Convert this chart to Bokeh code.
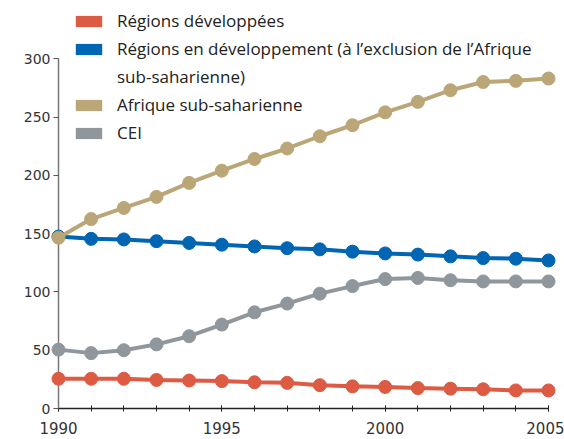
from bokeh.plotting import figure
from bokeh.models import Range1d, FixedTicker, Legend, LegendItem, ColumnDataSource, LinearAxis
from bokeh.embed import file_html
from bokeh.resources import INLINE

years = list(range(1990, 2006))
developed = [25.5, 25.5, 25.5, 24.5, 24, 23.5, 22.5, 22, 20, 19, 18.5, 17.5, 17, 16.5, 15.5, 15.5]
developing = [147.5, 145.5, 145, 143.5, 142, 140.5, 139, 137.5, 136.5, 134.5, 133, 132, 130.5, 129, 128.5, 127]
ssa = [146.5, 162.5, 172, 181.5, 193.5, 204, 214, 223, 233.5, 243, 254, 263, 273, 280, 281, 283]
cis = [50.5, 47.5, 50, 55, 62, 72, 82.5, 90, 98.5, 105, 111, 112, 110, 109, 109, 109]

# legend labels (the second one wraps onto a second line)
legend_lines = [["Régions développées"],
                ["Régions en développement (à l’exclusion de l’Afrique", "sub-saharienne)"],
                ["Afrique sub-saharienne"],
                ["CEI"]]
colors = ["#DD5A43", "#0066B3", "#BAA676", "#8F979D"]
x_ticks = [1990, 1995, 2000, 2005]
y_ticks = [0, 50, 100, 150, 200, 250, 300]

LEGEND_FONT = "Open Sans"
TICK_FONT = "DejaVu Sans"

p = figure(width=564, height=439, output_backend="svg", toolbar_location=None,
           x_range=Range1d(1990, 2005), y_range=Range1d(0, 346.5),
           min_border_left=58, min_border_right=16, min_border_top=4, min_border_bottom=31,
           x_axis_location=None, y_axis_location=None)
p.outline_line_color = None
p.grid.visible = False
p.background_fill_color = "white"
p.border_fill_color = "white"

xax = LinearAxis(ticker=FixedTicker(ticks=x_ticks, minor_ticks=years), bounds=(1990, 2005))
xax.axis_line_color = "#222222"
xax.axis_line_width = 1.5
xax.major_tick_line_color = "#222222"
xax.minor_tick_line_color = "#222222"
xax.major_tick_in = 3
xax.major_tick_out = 3
xax.minor_tick_in = 3
xax.minor_tick_out = 3
xax.major_label_text_font = TICK_FONT
xax.major_label_text_font_size = "15px"
xax.major_label_text_color = "#333333"
xax.major_label_standoff = 10
p.add_layout(xax, "below")

yax = LinearAxis(ticker=FixedTicker(ticks=y_ticks), bounds=(0, 300))
yax.axis_line_color = "#777777"
yax.axis_line_width = 1.5
yax.major_tick_line_color = "#555555"
yax.major_tick_in = 0
yax.major_tick_out = 5
yax.minor_tick_line_color = None
yax.major_label_text_font = TICK_FONT
yax.major_label_text_font_size = "14px"
yax.major_label_text_color = "#333333"
yax.major_label_standoff = 3
p.add_layout(yax, "left")

series = [cis, developed, developing, ssa]
order_colors = [colors[3], colors[0], colors[1], colors[2]]
for vals, c in zip(series, order_colors):
    src = ColumnDataSource(dict(x=years, y=vals))
    p.line("x", "y", source=src, line_color=c, line_width=4, level="overlay")
    p.scatter("x", "y", source=src, size=13, fill_color=c, line_color=c, level="overlay")

nan = float("nan")
items = []
for lines, c in zip(legend_lines, colors):
    for k, txt in enumerate(lines):
        if k == 0:
            r = p.quad(left=[nan], right=[nan], top=[nan], bottom=[nan], fill_color=c, line_color=None)
        else:
            r = p.quad(left=[nan], right=[nan], top=[nan], bottom=[nan], fill_alpha=0, line_alpha=0)
        items.append(LegendItem(label=txt, renderers=[r]))

legend = Legend(items=items, location=(14, 263))
legend.border_line_color = None
legend.background_fill_alpha = 0
legend.padding = 0
legend.margin = 0
legend.spacing = 3
legend.glyph_width = 33
legend.glyph_height = 14
legend.label_standoff = 12
legend.label_text_font = LEGEND_FONT
legend.label_text_font_size = "17px"
legend.label_text_color = "#222222"
legend.label_height = 25
p.add_layout(legend)

open("out.html", "w").write(file_html(p, INLINE))
